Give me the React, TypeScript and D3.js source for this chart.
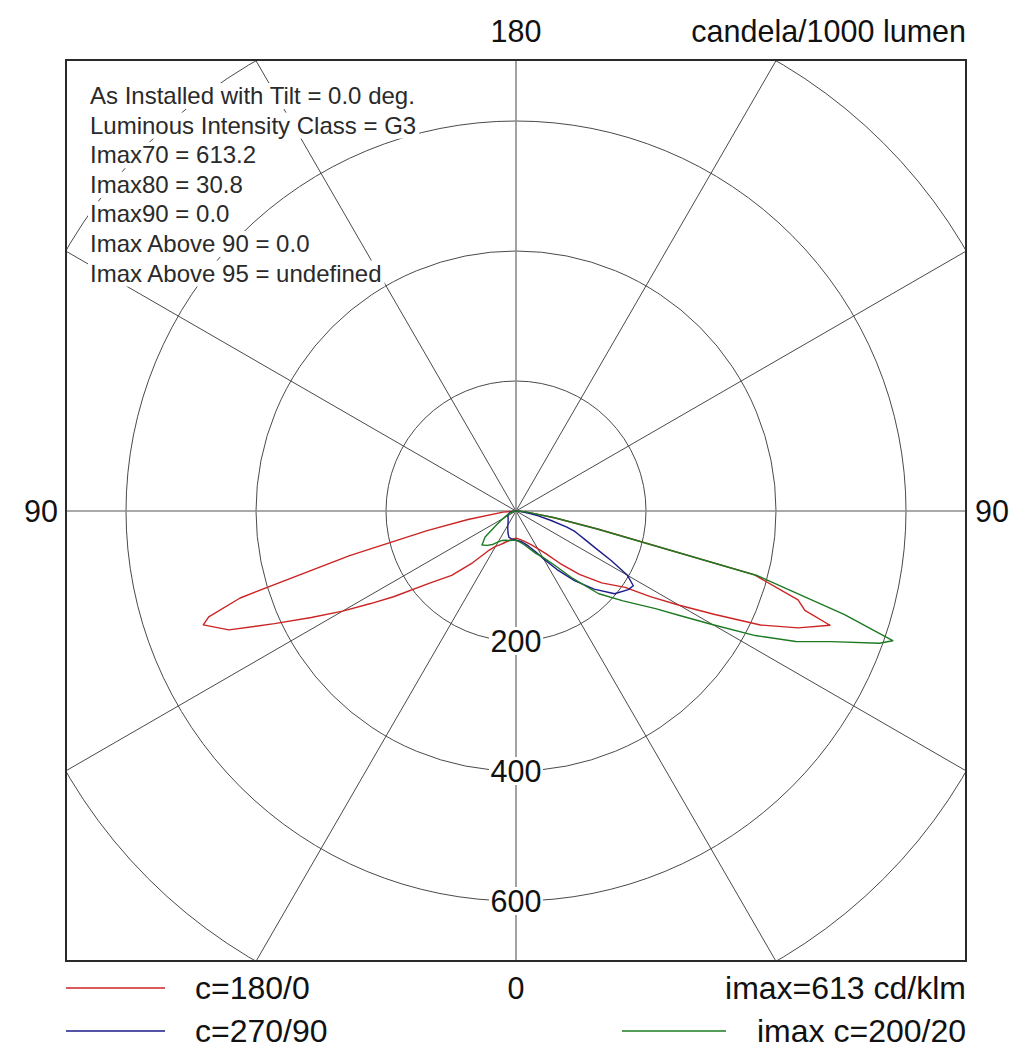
import React, { useLayoutEffect, useRef, useState } from "react";
import * as d3 from "d3";

// ---------- data ----------
const GAMMA = [0, 5, 10, 15, 20, 25, 30, 35, 40, 45, 50, 55, 57.5, 60, 62.5, 65, 67.5, 70, 71, 72.5, 75, 77.5, 80, 85, 90];

// c=180/0 (red)
const RED_C180 = [42, 43, 45, 48, 52, 57, 63, 75, 104, 140, 172, 230, 265, 308, 355, 410, 478, 512, 500, 445, 265, 140, 75, 20, 0];
const RED_C0 = [42, 43, 45, 48, 52, 58, 67, 80, 105, 138, 172, 205, 245, 290, 345, 415, 470, 514, 470, 455, 380, 130, 60, 15, 0];

// c=270/90 (blue)
const BLUE_C270 = [45, 44, 43, 42, 36, 30, 25, 21, 19, 17, 16, 15, 15, 14, 14, 13, 13, 12, 12, 11, 10, 9, 8, 4, 0];
const BLUE_C90 = [45, 46, 48, 52, 58, 68, 85, 110, 140, 170, 198, 211, 214, 198, 165, 135, 115, 100, 95, 82, 55, 35, 22, 8, 0];

// imax c=200/20 (green)
const GREEN_C200 = [45, 45, 46, 47, 48, 50, 55, 63, 69, 74, 62, 35, 28, 22, 18, 15, 12, 10, 10, 9, 6, 4, 3, 1, 0];
const GREEN_C20 = [45, 47, 50, 55, 62, 72, 82, 100, 135, 180, 215, 262, 300, 350, 415, 475, 525, 595, 613, 530, 385, 128, 60, 15, 0];

const RINGS = [200, 400, 600, 800];
const RING_LABELS = [200, 400, 600];
const SPOKES = [30, 60, 120, 150, 210, 240, 300, 330];

const INFO_LINES = [
  "As Installed with Tilt = 0.0 deg.",
  "Luminous Intensity Class = G3",
  "Imax70 = 613.2",
  "Imax80 = 30.8",
  "Imax90 = 0.0",
  "Imax Above 90 = 0.0",
  "Imax Above 95 = undefined",
];

const SERIES = [
  { name: "c=180/0", left: RED_C180, right: RED_C0, color: "#cc2424" },
  { name: "c=270/90", left: BLUE_C270, right: BLUE_C90, color: "#1c1c8a" },
  { name: "imax c=200/20", left: GREEN_C200, right: GREEN_C20, color: "#1d7a22" },
];

// ---------- layout ----------
const W = 1016;
const H = 1052;
const CX = 516;
const CY = 511;
const BX0 = 66, BY0 = 60, BX1 = 966, BY1 = 961;
const FONT = "'Liberation Sans', Arial, sans-serif";

const rScale = d3.scaleLinear().domain([0, 800]).range([0, 520]);
const rad = Math.PI / 180;

const radial = d3
  .lineRadial<[number, number]>()
  .angle((d) => d[0])
  .radius((d) => rScale(d[1]))
  .curve(d3.curveLinear);

function curvePoints(left: number[], right: number[]): [number, number][] {
  const l: [number, number][] = GAMMA.map((g, i) => [Math.PI + g * rad, left[i]] as [number, number]).reverse();
  const r: [number, number][] = GAMMA.map((g, i) => [Math.PI - g * rad, right[i]] as [number, number]);
  return l.concat(r);
}

function InfoBox() {
  const refs = useRef<(SVGTextElement | null)[]>([]);
  const [widths, setWidths] = useState<number[]>(INFO_LINES.map(() => 0));
  useLayoutEffect(() => {
    setWidths(refs.current.map((t) => (t ? t.getBBox().width : 0)));
  }, []);
  const x = 90;
  const y0 = 104;
  const dy = 29.6;
  return (
    <g>
      {INFO_LINES.map((s, i) => (
        <rect key={"r" + i} x={x - 2} y={y0 + i * dy - 21} width={widths[i] + 5} height={26} fill="#fff" />
      ))}
      {INFO_LINES.map((s, i) => (
        <text
          key={"t" + i}
          ref={(el) => {
            refs.current[i] = el;
          }}
          x={x}
          y={y0 + i * dy}
          fontSize={24}
          fontFamily={FONT}
          fill="#2a2a2a"
        >
          {s}
        </text>
      ))}
    </g>
  );
}

export default function App() {
  const big = 30.5;
  const leg = 32;
  return (
    <div style={{ position: "absolute", left: 0, top: 0, width: W, height: H, background: "#fff" }}>
      <svg width={W} height={H} style={{ display: "block" }}>
        <defs>
          <clipPath id="boxclip">
            <rect x={BX0} y={BY0} width={BX1 - BX0} height={BY1 - BY0} />
          </clipPath>
        </defs>
        <rect x={0} y={0} width={W} height={H} fill="#fff" />
        <g clipPath="url(#boxclip)">
          {RINGS.map((v) => (
            <circle key={v} cx={CX} cy={CY} r={rScale(v)} fill="none" stroke="#4a4a4a" strokeWidth={1} />
          ))}
          {SPOKES.map((a) => (
            <line
              key={a}
              x1={CX}
              y1={CY}
              x2={CX + 1000 * Math.sin(a * rad)}
              y2={CY + 1000 * Math.cos(a * rad)}
              stroke="#4a4a4a"
              strokeWidth={1}
            />
          ))}
          <line x1={BX0} y1={CY} x2={BX1} y2={CY} stroke="#8c8c8c" strokeWidth={1.6} />
          <line x1={CX} y1={BY0} x2={CX} y2={BY1} stroke="#8c8c8c" strokeWidth={1.6} />
        </g>
        {RING_LABELS.map((v) => (
          <g key={"l" + v}>
            <rect x={CX - 27} y={CY + rScale(v) - 14} width={54} height={28} fill="#fff" />
            <text
              x={CX}
              y={CY + rScale(v) + 11}
              textAnchor="middle"
              fontSize={big}
              fontFamily={FONT}
              fill="#111"
            >
              {v}
            </text>
          </g>
        ))}
        <InfoBox />
        <g clipPath="url(#boxclip)">
          <g transform={`translate(${CX},${CY})`}>
            {SERIES.map((s) => (
              <path
                key={s.name}
                d={radial(curvePoints(s.left, s.right)) || ""}
                fill="none"
                stroke={s.color}
                strokeWidth={1.4}
                strokeLinejoin="round"
              />
            ))}
          </g>
        </g>
        <rect x={BX0} y={BY0} width={BX1 - BX0} height={BY1 - BY0} fill="none" stroke="#2a2a2a" strokeWidth={2} />
        <text x={CX} y={42} textAnchor="middle" fontSize={big} fontFamily={FONT} fill="#111">180</text>
        <text x={BX1} y={42} textAnchor="end" fontSize={big} fontFamily={FONT} fill="#111">candela/1000 lumen</text>
        <text x={58} y={CY + 11} textAnchor="end" fontSize={big} fontFamily={FONT} fill="#111">90</text>
        <text x={975} y={CY + 11} textAnchor="start" fontSize={big} fontFamily={FONT} fill="#111">90</text>
        <text x={CX} y={999} textAnchor="middle" fontSize={big} fontFamily={FONT} fill="#111">0</text>
        <line x1={66} y1={988} x2={165} y2={988} stroke={SERIES[0].color} strokeWidth={1.6} />
        <text x={195} y={999} fontSize={leg} fontFamily={FONT} fill="#111">{SERIES[0].name}</text>
        <text x={BX1} y={999} textAnchor="end" fontSize={leg} fontFamily={FONT} fill="#111">
          {`imax=${d3.max(GREEN_C20)} cd/klm`}
        </text>
        <line x1={66} y1={1031} x2={165} y2={1031} stroke={SERIES[1].color} strokeWidth={1.6} />
        <text x={195} y={1042} fontSize={leg} fontFamily={FONT} fill="#111">{SERIES[1].name}</text>
        <line x1={622} y1={1031} x2={726} y2={1031} stroke={SERIES[2].color} strokeWidth={1.6} />
        <text x={BX1} y={1042} textAnchor="end" fontSize={leg} fontFamily={FONT} fill="#111">{SERIES[2].name}</text>
      </svg>
    </div>
  );
}
